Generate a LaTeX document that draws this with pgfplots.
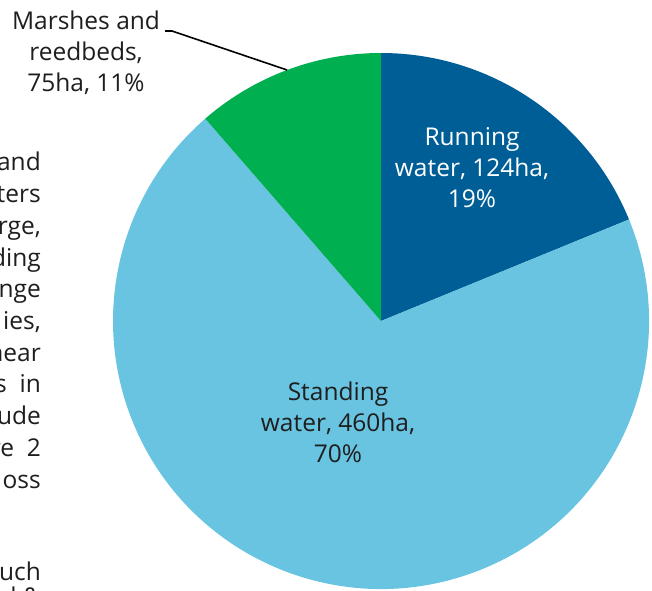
\documentclass[border=0pt]{standalone}
\usepackage{fontspec}
\setmainfont{Open Sans}
\usepackage{pgfplots}
\usepackage{pgfplotstable}
\pgfplotsset{compat=1.18}

\definecolor{runblue}{RGB}{0,94,151}
\definecolor{standblue}{RGB}{104,196,224}
\definecolor{marshgreen}{RGB}{0,175,80}
\definecolor{txt}{RGB}{30,30,30}

% areas in ha
\pgfplotstableread{
label value
Running 124
Standing 460
Marshes 75
}\piedata

\begin{document}
\begin{tikzpicture}
\pgfplotstablegetelem{0}{value}\of\piedata \pgfmathsetmacro\va{\pgfplotsretval}
\pgfplotstablegetelem{1}{value}\of\piedata \pgfmathsetmacro\vb{\pgfplotsretval}
\pgfplotstablegetelem{2}{value}\of\piedata \pgfmathsetmacro\vc{\pgfplotsretval}
\pgfmathsetmacro\tot{\va+\vb+\vc}
\pgfmathsetmacro\aA{90-360*(\va/\tot)}
\pgfmathsetmacro\aB{\aA-360*(\vb/\tot)}
\begin{axis}[
  hide axis, scale only axis, clip=false,
  width=652pt, height=590pt,
  xmin=0, xmax=652, ymin=0, ymax=590,
]
  \fill[runblue] (axis cs:381,269) -- ++(90:268pt) arc[start angle=90, end angle=\aA, radius=268pt] -- cycle;
  \fill[standblue] (axis cs:381,269) -- ++(\aA:268pt) arc[start angle=\aA, end angle=\aB, radius=268pt] -- cycle;
  \fill[marshgreen] (axis cs:381,269) -- ++(\aB:268pt) arc[start angle=\aB, end angle=-270, radius=268pt] -- cycle;

  \node[white, align=center, font=\fontsize{24.5}{31}\selectfont] at (axis cs:472,422) {Running\\water, 124ha,\\19\%};
  \node[txt, align=center, font=\fontsize{24.5}{31}\selectfont] at (axis cs:338,168) {Standing\\water, 460ha,\\70\%};
  \node[txt, align=center, font=\fontsize{24.5}{31}\selectfont] at (axis cs:86,537) {Marshes and\\reedbeds,\\75ha, 11\%};
  \draw[black, line width=1.6pt] (axis cs:165,559) -- (axis cs:172,559) -- (axis cs:287,520);
\end{axis}
% body text cut off on the left (axis units are 1pt from the origin)
\foreach \w/\y in {and/419, ters/387.3, {rge,}/355.6, ding/323.9, nge/292.2, {ies,}/260.5, near/228.8, s\ \ in/197.1, ude/165.4, re\ \ 2/133.7, oss/102, uch/10, d \&/-15}{
  \node[txt, anchor=base east, font=\fontsize{24.5}{31}\selectfont, inner sep=0pt] at (41pt,\y pt) {\w};
}
\pgfresetboundingbox
\path (0,0) rectangle (652pt,590pt);
\end{tikzpicture}
\end{document}
